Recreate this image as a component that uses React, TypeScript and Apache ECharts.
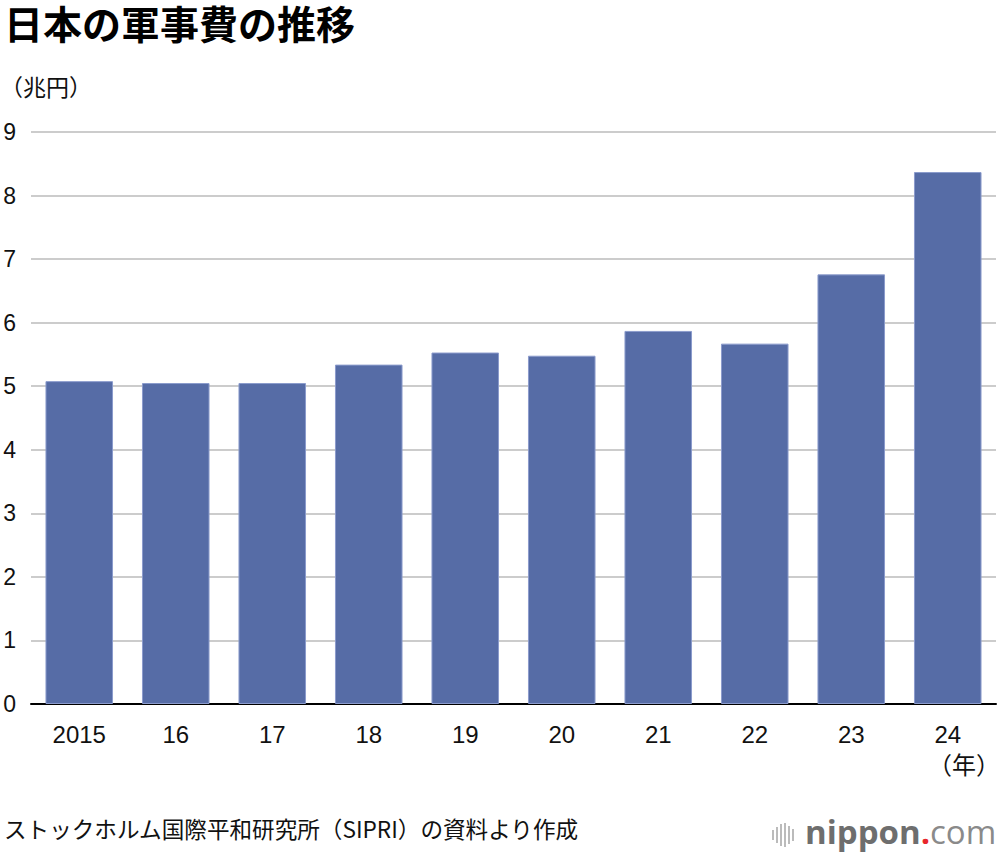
import React, { useEffect, useRef } from "react";
import * as echarts from "echarts";

const categories = ["2015", "16", "17", "18", "19", "20", "21", "22", "23", "24"];
const values = [5.08, 5.05, 5.05, 5.34, 5.53, 5.48, 5.87, 5.67, 6.76, 8.37];
const yTicks = [0, 1, 2, 3, 4, 5, 6, 7, 8, 9];

const FONT = "'Liberation Sans', 'Noto Sans CJK JP', sans-serif";
const JFONT = "'Noto Sans CJK JP', 'Liberation Sans', sans-serif";

export default function App() {
  const ref = useRef<HTMLDivElement>(null);
  useEffect(() => {
    if (!ref.current) return;
    const chart = echarts.init(ref.current, undefined, { renderer: "svg" });
    const logoBars = [
      { x: 772, h: 10 },
      { x: 776, h: 16 },
      { x: 780, h: 22 },
      { x: 784, h: 24 },
      { x: 788, h: 18 },
      { x: 792, h: 12 },
    ];
    chart.setOption({
      animation: false,
      backgroundColor: "#ffffff",
      grid: { left: 31, right: 4, top: 132, bottom: 152, containLabel: false },
      xAxis: {
        type: "category",
        data: categories,
        axisLine: { show: true, lineStyle: { color: "#000000", width: 2 } },
        axisTick: { show: false },
        axisLabel: { color: "#111111", fontSize: 24, fontFamily: FONT, margin: 18 },
      },
      yAxis: {
        type: "value",
        min: yTicks[0],
        max: yTicks[yTicks.length - 1],
        interval: 1,
        axisLine: { show: false },
        axisTick: { show: false },
        axisLabel: {
          color: "#111111",
          fontSize: 23,
          fontFamily: FONT,
          align: "right",
          margin: 15,
        },
        splitLine: { lineStyle: { color: "#cccccc", width: 2 } },
      },
      series: [
        {
          type: "bar",
          data: values,
          barWidth: "70%",
          itemStyle: { color: "#566ca6", borderColor: "#8b9bcc", borderWidth: 1 },
        },
      ],
      graphic: [
        {
          type: "text",
          left: 4,
          top: 2,
          style: { text: "日本の軍事費の推移", fontSize: 39, fontWeight: "bold", fill: "#000", fontFamily: JFONT },
        },
        {
          type: "text",
          left: 0,
          top: 74,
          style: { text: "（兆円）", fontSize: 23, fill: "#111", fontFamily: JFONT },
        },
        {
          type: "text",
          right: 0,
          top: 751,
          style: { text: "（年）", fontSize: 24, fill: "#111", fontFamily: JFONT },
        },
        {
          type: "text",
          left: 4,
          top: 817,
          style: { text: "ストックホルム国際平和研究所（SIPRI）の資料より作成", fontSize: 22.6, fill: "#111", fontFamily: JFONT },
        },
        ...logoBars.map((b) => ({
          type: "rect",
          shape: { x: b.x, y: 835 - b.h / 2, width: 2, height: b.h },
          style: { fill: "#bbbbbb" },
        })),
        {
          type: "text",
          x: 805,
          y: 815,
          style: {
            rich: {
              a: { fontSize: 33, fontWeight: "bold", fill: "#6e6e6e", fontFamily: "'Open Sans', sans-serif" },
              d: { fontSize: 33, fontWeight: "bold", fill: "#e8262b", fontFamily: "'Open Sans', sans-serif" },
              c: { fontSize: 33, fontWeight: "normal", fill: "#8a8a8a", fontFamily: "'Open Sans', sans-serif" },
            },
            text: "{a|nippon}{d|.}{c|com}",
          },
        },
      ],
    });
    return () => chart.dispose();
  }, []);
  return <div ref={ref} style={{ width: 1000, height: 856, position: "absolute", left: 0, top: 0 }} />;
}
